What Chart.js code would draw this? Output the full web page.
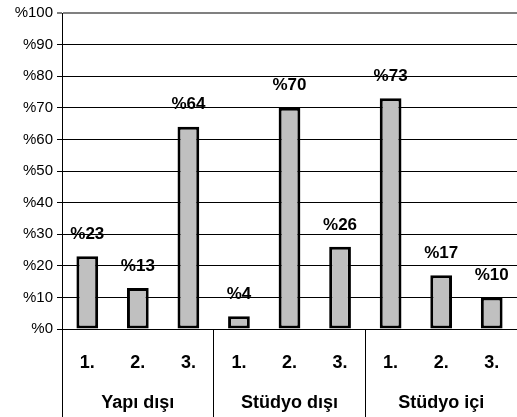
<!DOCTYPE html>
<html>
<head>
<meta charset="utf-8">
<script src="https://cdn.jsdelivr.net/npm/chart.js@4"></script>
<style>
  html, body { margin: 0; padding: 0; background: #fff; }
  canvas { display: block; }
</style>
</head>
<body>
<canvas id="c" width="517" height="417"></canvas>
<script>
var subLabels = ['1.', '2.', '3.', '1.', '2.', '3.', '1.', '2.', '3.'];
var groupLabels = ['Yapı dışı', 'Stüdyo dışı', 'Stüdyo içi'];
var values = [23, 13, 64, 4, 70, 26, 73, 17, 10];

var FONT = '"Liberation Sans", Arial, sans-serif';

// percent labels above each bar
var valueLabels = {
    id: 'valueLabels',
    afterDatasetsDraw: function(chart) {
        var ctx = chart.ctx;
        var meta = chart.getDatasetMeta(0);
        ctx.save();
        ctx.font = 'bold 17px ' + FONT;
        ctx.fillStyle = '#000';
        ctx.textAlign = 'center';
        ctx.textBaseline = 'middle';
        meta.data.forEach(function(bar, i) {
            ctx.fillText('%' + values[i], bar.x, bar.y - 22);
        });
        ctx.restore();
    }
};

new Chart(document.getElementById('c').getContext('2d'), {
    type: 'bar',
    data: {
        labels: subLabels,
        datasets: [{
            data: values,
            backgroundColor: '#c0c0c0',
            borderColor: '#000',
            borderWidth: 3,
            borderSkipped: false,
            categoryPercentage: 1,
            barPercentage: 0.43
        }]
    },
    options: {
        responsive: false,
        animation: false,
        layout: { padding: { top: 13, right: 0, left: 0, bottom: 0 } },
        plugins: {
            legend: { display: false },
            tooltip: { enabled: false }
        },
        scales: {
            y: {
                min: 0,
                max: 100,
                ticks: {
                    stepSize: 10,
                    color: '#000',
                    padding: 4,
                    font: { family: FONT, size: 15 },
                    callback: function(v) { return '%' + v; }
                },
                grid: {
                    color: function(c) { return c.tick && c.tick.value === 100 ? '#808080' : '#000'; },
                    lineWidth: function(c) { return c.tick && c.tick.value === 100 ? 2 : 1; },
                    tickLength: 5
                },
                border: { color: '#000', width: 1 },
                afterFit: function(s) { s.width = 62; }
            },
            x: {
                grid: {
                    drawOnChartArea: false,
                    tickLength: 88,
                    color: function(c) { return c.index % 3 === 0 ? '#000' : 'rgba(0,0,0,0)'; }
                },
                border: { color: '#000' },
                ticks: {
                    color: '#000',
                    padding: -65,
                    font: { family: FONT, size: 18, weight: 'bold' }
                },
                afterFit: function(s) { s.height = 48; }
            },
            x2: {
                type: 'category',
                position: 'bottom',
                labels: groupLabels,
                offset: true,
                grid: { display: false, drawTicks: false },
                border: { display: false },
                ticks: {
                    color: '#000',
                    padding: 15,
                    font: { family: FONT, size: 18, weight: 'bold' }
                },
                afterFit: function(s) { s.height = 40; }
            }
        }
    },
    plugins: [valueLabels]
});
</script>
</body>
</html>
